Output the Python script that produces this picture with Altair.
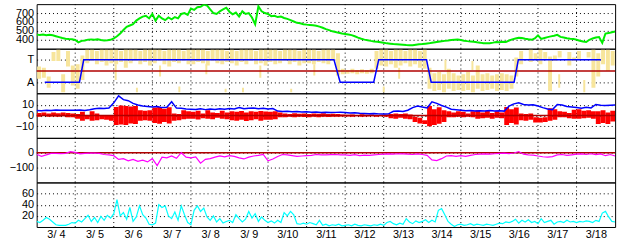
import altair as alt
import pandas as pd

FONT = "Liberation Sans"
W, H = 584, 45

# x positions: days since 3/4 00:00
DAY_LABELS = ["3/ 4", "3/ 5", "3/ 6", "3/ 7", "3/ 8", "3/ 9", "3/10", "3/11",
              "3/12", "3/13", "3/14", "3/15", "3/16", "3/17", "3/18"]
LABEL_POS = [i + 0.5 for i in range(15)]
GRID_DAYS = list(range(1, 15))

# panel 1 (green), every 2 hours
GREEN = [
    458, 455, 460, 452, 457, 450, 440, 430, 420, 412, 408, 405,
    398, 372, 388, 392, 402, 404, 400, 405, 398, 392, 395, 400,
    415, 440, 470, 510, 545, 560, 575, 615, 640, 660, 670, 640,
    690, 615, 670, 640, 620, 650, 630, 655, 640, 690, 700, 680,
    750, 735, 765, 770, 795, 785, 740, 700, 690, 720, 740, 760,
    715, 685, 705, 660, 720, 690, 700, 650, 575, 775, 720, 700,
    690, 665, 670, 655, 660, 645, 635, 620, 605, 590, 585, 575,
    570, 566, 562, 558, 548, 535, 520, 508, 495, 487, 478, 470,
    465, 460, 452, 440, 425, 412, 402, 395, 388, 382, 378, 372,
    366, 360, 356, 352, 350, 348, 345, 342, 340, 338, 345, 350,
    352, 356, 360, 366, 372, 378, 384, 388, 392, 398, 400, 402,
    398, 390, 385, 382, 378, 372, 368, 362, 360, 362, 368, 375,
    372, 378, 374, 392, 405, 415, 422, 420, 412, 405, 400, 415,
    450, 410, 420, 430, 438, 445, 455, 432, 425, 418, 412, 410,
    400, 390, 380, 375, 400, 415, 425, 430, 365, 470, 475, 485,
    492,
]

# panel 2 (T / A state), yellow streaks per 3-hour bin
YEL_HI = [
    0.4, 0.3, -0.5, 1.7, 1.9, -0.3, 1.8, 0.5,
    0.6, 1.4, 1.9, 1.9, 1.8, 1.9, 1.9, 1.9,
    1.9, 1.8, 1.9, 1.9, 1.9, 1.8, 1.9, 1.9,
    1.9, 1.9, 1.8, 1.9, 1.9, 1.9, 1.8, 1.9,
    1.9, 1.9, 1.9, 1.8, 1.9, 1.9, 1.9, 1.8,
    1.9, 1.8, 1.9, 1.9, 1.9, 1.8, 1.9, 1.9,
    1.9, 1.9, 1.8, 1.9, 1.9, 1.9, 1.8, 1.9,
    1.9, 1.9, 1.8, 1.9, 1.9, 1.9, 1.6, 0.2,
    0.1, 0.2, 0.1, 0.15, 0.1, 0.2, 1.8, 1.9,
    1.9, 1.8, 1.9, 1.9, 1.8, 1.9, 1.9, 1.8,
    1.9, 0.3, -0.2, -0.1, -0.3, 0.2, -0.2, -0.4,
    -0.3, -0.1, -0.4, 0.5, -0.3, -0.2, -0.4, -0.3,
    -0.2, -0.3, -0.4, 1.2, 1.8, None, 1.9, 1.6,
    1.9, 1.7, 1.3, 1.4, 1.8, None, 1.7, 1.2,
    1.8, None, 1.7, 1.9, 1.6, 1.9, 1.9, 1.8,
]
YEL_LO = [
    -0.7, -0.6, -1.5, 0.9, 0.9, -1.9, 0.4, -1.3,
    -1.6, -0.8, 0.7, 0.9, 0.6, 0.8, 0.5, 0.7,
    0.6, 0.8, 0.3, 0.7, 0.9, 0.6, 0.8, 0.5,
    0.7, 0.9, 0.6, 0.4, 0.8, 0.7, 0.9, 0.6,
    0.6, 0.8, 0.7, 0.5, 0.9, 0.7, 0.6, 0.8,
    0.7, 0.5, 0.8, 0.6, 0.9, 0.6, 0.7, 0.5,
    0.8, 0.6, 0.7, 0.9, 0.6, 0.8, 0.5, 0.7,
    0.7, 0.6, 0.8, 0.7, 0.6, 0.9, -0.4, -0.3,
    -0.25, -0.2, -0.3, -0.2, -0.25, -0.2, 0.2, 0.5,
    0.4, 0.6, 0.3, 0.5, 0.7, 0.4, 0.6, 0.3,
    0.2, -1.6, -1.8, -1.7, -1.9, -1.6, -1.8, -1.7,
    -1.8, -1.7, -1.9, -1.6, -1.8, -1.7, -1.6, -1.8,
    -1.7, -1.8, -1.6, -0.5, 0.6, None, 0.8, 1.0,
    0.6, 1.1, -1.8, 0.9, 1.2, None, 0.5, 0.9,
    1.1, None, 1.2, -1.5, -0.5, 0.6, 0.0, 0.5,
]
YEL_X2 = [2.05, 2.6, 3.2, 3.7, 4.4, 4.9, 5.35, 5.8, 6.6, 7.2, 9.0, 9.4, 10.6, 11.3, 13.55, 14.2]
YEL_LO2 = [-0.8, -1.9, -0.5, -1.9, -0.3, -1.9, -1.9, -0.6, -1.9, -0.4, -1.9, -0.7, 0.1, 0.1, -1.5, -1.9]
YEL_HI2 = [0.6, -1.5, 0.5, -1.4, 0.6, -1.6, -1.5, 0.5, -1.6, 0.6, -1.4, 0.3, 1.0, 0.9, -0.3, -0.8]
STATE_X = [0.21, 1.11, 1.22, 7.71, 7.87, 8.74, 8.87, 10.11, 10.23, 12.38, 12.49, 14.63]
STATE_V = [-1, -1, 1, 1, -1, -1, 1, 1, -1, -1, 1, 1]

# panel 3, every 3 hours
BLUE3 = [
    4.8, 4.6, 5.0, 4.8, 5.2, 5.0, 4.9, 5.1,
    5.0, 5.3, 4.8, 5.5, 6.5, 6.8, 6.6, 7.2,
    12.0, 18.5, 15.0, 14.0, 11.5, 10.0, 9.0, 8.5,
    8.0, 8.6, 7.5, 7.8, 13.0, 7.0, 6.8, 6.2,
    6.0, 5.8, 6.4, 5.6, 6.2, 5.8, 6.5, 6.0,
    6.6, 6.2, 7.5, 6.4, 6.8, 7.2, 6.5, 6.8,
    6.2, 6.6, 4.2, 3.8, 4.0, 3.6, 3.8, 3.4,
    3.6, 3.2, 3.4, 3.0, 3.2, 2.8, 3.0, 3.2,
    2.8, 2.4, 2.6, 2.2, 2.0, 1.8, 2.0, 1.6,
    1.4, 1.6, 4.0, 4.2, 3.8, 5.0, 7.5, 9.0,
    8.0, 7.2, 13.0, 11.5, 9.5, 8.0, 6.0, 5.5,
    5.0, 4.6, 4.8, 4.4, 4.6, 4.2, 4.8, 4.4,
    4.6, 4.2, 9.0, 11.0, 12.0, 10.5, 10.0, 10.2,
    9.0, 7.5, 6.2, 5.6, 10.5, 10.0, 8.5, 8.0,
    7.5, 7.0, 7.8, 7.2, 10.5, 9.8, 9.5, 9.8,
    10.0,
]
RED_HI = [
    2.5, 3.0, 2.0, 2.8, 2.2, 3.0, 2.5, 2.0,
    1.5, 3.5, 0.5, 4.0, 2.0, 0.0, -0.5, 0.5,
    8.0, 9.5, 9.0, 8.5, 9.0, 5.0, 4.5, 5.0,
    7.5, 8.0, 6.5, 7.8, 2.0, 1.5, 5.0, 4.0,
    3.5, 4.5, 2.0, 5.0, 3.0, 2.5, 4.5, 3.0,
    4.0, 3.5, 4.2, 3.0, 4.0, 3.5, 4.2, 3.8,
    3.5, 4.0, 3.0, 2.0, 1.5, 2.3, 1.8, 2.0,
    1.5, 2.0, 1.8, 2.2, 1.5, 1.8, 1.4, 1.0,
    0.8, 1.0, 0.6, 1.2, 0.8, 1.0, 0.5, 0.8,
    1.0, 1.5, 2.0, 1.5, 2.0, 1.0, -1.0, -2.0,
    -4.5, 9.0, 6.0, 7.8, 5.0, 4.0, 3.0, 4.0,
    3.5, 2.0, 4.0, 5.0, 3.0, 4.5, 2.5, 4.0,
    3.0, 8.0, 6.0, 7.5, 2.0, 1.5, 2.0, -1.5,
    -2.0, -1.7, 7.0, 6.0, 4.0, 3.5, 2.5, 5.5,
    6.0, 4.5, 5.0, 4.0, 4.0, 5.0, 3.0, 4.5,
]
RED_LO = [
    -1.0, -0.5, -1.2, -0.8, -1.0, -0.6, -1.5, -1.7,
    -3.0, -5.0, -3.5, -5.0, -4.5, -3.5, -4.0, -5.0,
    -9.0, -8.5, -9.0, -7.5, -8.0, -5.0, -4.5, -5.0,
    -7.0, -7.8, -6.0, -7.5, -5.0, -4.5, -3.5, -3.0,
    -3.0, -3.8, -2.5, -3.0, -3.5, -2.0, -3.0, -3.5,
    -4.5, -5.0, -4.0, -5.1, -4.5, -3.5, -4.8, -4.0,
    -4.0, -3.5, -1.5, -1.7, -1.2, -1.5, -1.0, -1.3,
    -1.5, -1.2, -1.7, -1.0, -1.4, -1.0, -1.2, -0.8,
    -0.8, -1.0, -0.6, -1.1, -0.8, -0.6, -1.0, -0.7,
    -1.0, -2.5, -3.0, -2.0, -3.0, -3.5, -6.0, -7.5,
    -8.0, -10.0, -9.0, -7.8, -6.0, -1.7, -1.5, -1.2,
    -1.7, -1.0, -1.5, -3.0, -2.5, -2.0, -3.0, -2.0,
    -2.5, -9.0, -7.0, -8.5, -4.5, -5.0, -4.0, -6.5,
    -6.5, -6.0, -5.0, -4.0, -1.7, -1.5, -2.5, -3.0,
    -3.0, -2.5, -2.0, -3.0, -8.0, -7.0, -8.0, -5.5,
]

# panel 4 (magenta), every 3 hours
MAGENTA = [
    -10, -24, -15, -5, -4, -6, -4, 7,
    2, -8, -4, -3, -2, -4, -12, -15,
    -20, -45, -40, -55, -45, -58, -50, -62,
    -40, -87, -30, -35, -22, -38, 0, -30,
    -35, -28, -70, -45, -40, -30, -22, -28,
    -20, -25, -35, -42, -30, -22, -18, -12,
    -55, -42, -25, -12, -15, -20, -25, -22,
    -20, -18, -12, -14, -15, -13, -12, -14,
    -15, -18, -13, -20, -16, -18, -14, -12,
    -10, -8, -9, -7, -8, -10, -12, -8,
    -12, -18, -48, -53, -40, -22, -20, -24,
    -20, -25, -18, -12, -10, -8, -9, -7,
    -5, -3, -6, -2, 8, -10, -14, -16,
    -22, -27, -30, -26, -15, -12, -18, -14,
    -10, -8, -12, -7, -13, -8, -20, -12,
    -22,
]

# panel 5 (cyan), every 2 hours
CYAN = [
    10, 8, 12, 17, 14, 9, 4, 3, 3, 3, 5, 8,
    7, 12, 9, 15, 21, 10, 17, 8, 19, 12, 21, 16,
    24, 49, 20, 26, 14, 35, 10, 18, 38, 22, 16, 5,
    4, 7, 40, 35, 38, 20, 15, 27, 12, 38, 22, 8,
    4, 30, 38, 28, 34, 18, 12, 20, 9, 15, 7, 10,
    12, 8, 22, 15, 9, 14, 28, 16, 24, 10, 18, 12,
    8, 11, 7, 12, 8, 26, 20, 28, 22, 6, 5, 7,
    5, 8, 6, 4, 12, 3, 5, 2, 4, 3, 5, 2,
    3, 4, 2, 5, 3, 2, 4, 3, 2, 4, 3, 5,
    3, 8, 10, 6, 4, 7, 5, 15, 9, 6, 11, 8,
    10, 13, 8, 12, 9, 30, 33, 22, 10, 5, 1, 4,
    5, 3, 4, 6, 3, 5, 4, 3, 5, 4, 3, 5,
    7, 6, 9, 8, 10, 14, 7, 12, 9, 13, 8, 10,
    6, 15, 8, 10, 12, 5, 9, 10, 8, 12, 9, 10,
    8, 10, 9, 11, 10, 8, 12, 10, 25, 28, 18, 10,
    9,
]

# ---------------------------------------------------------------- tables
green_df = pd.DataFrame({"d": [i / 12 for i in range(len(GREEN))], "v": GREEN})
cyan_df = pd.DataFrame({"d": [i / 12 for i in range(len(CYAN))], "v": CYAN})
blue3_df = pd.DataFrame({"d": [i / 8 for i in range(len(BLUE3))], "v": BLUE3})
mag_df = pd.DataFrame({"d": [i / 8 for i in range(len(MAGENTA))], "v": MAGENTA})
red_df = pd.DataFrame({"d": [(i + 0.5) / 8 for i in range(len(RED_HI))], "lo": RED_LO, "hi": RED_HI})
yel_df = pd.DataFrame({"d": [(i + 0.5) / 8 for i in range(len(YEL_HI))], "lo": YEL_LO, "hi": YEL_HI}).dropna()
yel2_df = pd.DataFrame({"d": YEL_X2, "lo": YEL_LO2, "hi": YEL_HI2})
state_df = pd.DataFrame({"d": STATE_X, "v": STATE_V})
grid_df = pd.DataFrame({"g": GRID_DAYS})
zero_df = pd.DataFrame({"z": [0]})

label_arr = "[" + ",".join("'" + s + "'" for s in DAY_LABELS) + "]"

X_SCALE = alt.Scale(domain=[0, 15], nice=False, zero=False)
X_AXIS_BOTTOM = alt.Axis(values=LABEL_POS, labelExpr=label_arr + "[floor(datum.value)]",
                         grid=False, ticks=False, domain=False, title=None,
                         labelFlush=False, labelOverlap=False, labelPadding=2)


def yaxis(vals, expr=None):
    kw = dict(values=vals, grid=True, gridColor="black", gridDash=[1, 3], gridOpacity=1,
              gridWidth=1, ticks=False, domain=False, title=None, labelOverlap=False,
              labelFlush=False, labelPadding=3)
    if expr:
        kw["labelExpr"] = expr
    return alt.Axis(**kw)


def panel(layers, ydom, yvals, yexpr=None, bottom=False):
    xa = X_AXIS_BOTTOM if bottom else None
    ya = yaxis(yvals, yexpr)
    ys = alt.Scale(domain=ydom, nice=False, zero=False)
    charts = [
        alt.Chart(grid_df).mark_rule(color="black", strokeDash=[1, 3], strokeWidth=1).encode(
            x=alt.X("g:Q", scale=X_SCALE, axis=xa))
    ]
    for kind, df, mark_kw in layers:
        if kind == "line":
            c = alt.Chart(df).mark_line(clip=True, **mark_kw).encode(
                x=alt.X("d:Q", scale=X_SCALE, axis=xa),
                y=alt.Y("v:Q", scale=ys, axis=ya))
        elif kind == "band":
            c = alt.Chart(df).mark_rule(clip=True, **mark_kw).encode(
                x=alt.X("d:Q", scale=X_SCALE, axis=xa),
                y=alt.Y("lo:Q", scale=ys, axis=ya), y2="hi:Q")
        else:  # zero line
            c = alt.Chart(df).mark_rule(**mark_kw).encode(
                y=alt.Y("z:Q", scale=ys, axis=ya))
        charts.append(c)
    return alt.layer(*charts).properties(width=W, height=H)


DARKRED = {"color": "#b00000", "strokeWidth": 1.5}

p1 = panel([("line", green_df, {"color": "#00ee00", "strokeWidth": 2})],
           [300, 800], [400, 500, 600, 700])
p2 = panel([("band", yel_df, {"color": "#f7e59c", "strokeWidth": 4}),
            ("band", yel2_df, {"color": "#f7e59c", "strokeWidth": 2}),
            ("zero", zero_df, DARKRED),
            ("line", state_df, {"color": "#0000ff", "strokeWidth": 1.5})],
           [-2, 2], [-1, 1], "datum.value > 0 ? 'T' : 'A'")
p3 = panel([("band", red_df, {"color": "#ff0000", "strokeWidth": 4.9}),
            ("zero", zero_df, DARKRED),
            ("line", blue3_df, {"color": "#0000ff", "strokeWidth": 1.5})],
           [-21, 21], [-10, 0, 10])
p4 = panel([("zero", zero_df, DARKRED),
            ("line", mag_df, {"color": "#ff00ff", "strokeWidth": 1.2})],
           [-200, 100], [-100, 0])
p5 = panel([("line", cyan_df, {"color": "#00ffff", "strokeWidth": 1.2})],
           [0, 80], [20, 40, 60], bottom=True)

chart = alt.vconcat(p1, p2, p3, p4, p5, spacing=0, bounds="flush").properties(
    padding={"left": 8, "top": 2, "right": 11, "bottom": 3},
    background="white",
).configure_view(
    stroke="black", strokeWidth=1
).configure_axis(
    labelFont=FONT, labelFontSize=11, labelColor="black"
)

chart.save("out.html", embed_options={"renderer": "svg", "actions": False})
